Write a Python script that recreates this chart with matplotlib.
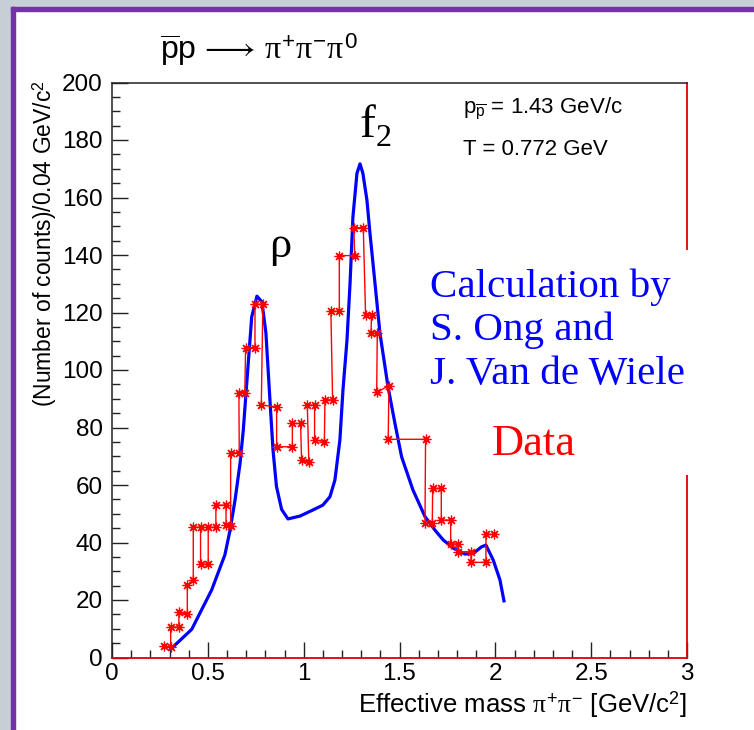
import matplotlib
matplotlib.use('Agg')
import matplotlib.pyplot as plt
from matplotlib.ticker import MultipleLocator
from matplotlib.patches import Rectangle

# ---------------- data ----------------
# measured spectrum (red, step-like polyline with star markers)
data_x = [0.272, 0.306, 0.306, 0.349, 0.349, 0.393, 0.393, 0.424, 0.424, 0.462,
          0.462, 0.502, 0.502, 0.542, 0.542, 0.595, 0.595, 0.619, 0.619, 0.664,
          0.662, 0.693, 0.697, 0.746, 0.746, 0.787, 0.779, 0.859, 0.859, 0.941,
          0.941, 0.984, 0.989, 1.027, 1.019, 1.057, 1.057, 1.108, 1.111, 1.151,
          1.142, 1.186, 1.186, 1.266, 1.262, 1.311, 1.323, 1.354, 1.351, 1.384,
          1.381, 1.445, 1.441, 1.636, 1.633, 1.671, 1.673, 1.718, 1.718, 1.767,
          1.767, 1.803, 1.807, 1.873, 1.873, 1.951, 1.951, 1.993]
data_y = [4.1, 3.5, 10.6, 10.6, 15.7, 15.1, 25.2, 26.9, 45.3, 45.3,
          32.4, 32.4, 45.3, 45.3, 53.0, 53.0, 46.1, 45.8, 71.2, 71.2,
          92.1, 92.1, 107.8, 107.8, 122.8, 122.8, 87.8, 87.2, 73.3, 73.3,
          81.4, 81.4, 68.7, 67.9, 87.8, 87.8, 75.7, 75.1, 89.6, 89.6,
          120.4, 120.4, 139.8, 139.8, 149.5, 149.5, 119.1, 119.1, 112.8, 112.8,
          92.2, 94.6, 75.9, 75.9, 46.7, 46.7, 58.8, 58.8, 47.8, 47.8,
          39.5, 39.5, 36.8, 36.8, 33.1, 33.1, 42.8, 42.8]

# calculation (blue curve)
calc_x = [0.306, 0.416, 0.520, 0.589, 0.616, 0.642, 0.668, 0.685, 0.703, 0.729,
          0.756, 0.782, 0.803, 0.824, 0.840, 0.858, 0.885, 0.918, 0.981, 1.048,
          1.100, 1.137, 1.163, 1.189, 1.205, 1.226, 1.242, 1.257, 1.278, 1.294,
          1.309, 1.330, 1.346, 1.372, 1.398, 1.440, 1.476, 1.511, 1.570, 1.633,
          1.685, 1.728, 1.781, 1.841, 1.885, 1.928, 1.951, 1.989, 2.024, 2.045]
calc_y = [2.9, 9.8, 23.5, 35.7, 44.3, 54.8, 67.5, 79.1, 95.4, 118.5,
          125.7, 123.7, 112.9, 89.6, 72.2, 59.5, 51.5, 48.2, 49.2, 51.3,
          53.0, 55.9, 61.7, 75.7, 93.0, 110.4, 130.2, 153.3, 168.4, 171.7,
          168.4, 159.1, 147.5, 130.2, 112.8, 94.2, 81.5, 69.8, 58.3, 49.0,
          44.3, 40.9, 38.0, 36.0, 36.2, 38.5, 39.1, 33.9, 27.0, 19.7]

x_ticks = [0, 0.5, 1, 1.5, 2, 2.5, 3]
x_tick_labels = ['0', '0.5', '1', '1.5', '2', '2.5', '3']
y_ticks = [0, 20, 40, 60, 80, 100, 120, 140, 160, 180, 200]
y_tick_labels = [str(v) for v in y_ticks]

# ---------------- style ----------------
plt.rcParams['font.family'] = ['Liberation Sans', 'DejaVu Sans']
plt.rcParams['mathtext.fontset'] = 'custom'
plt.rcParams['mathtext.rm'] = 'Liberation Sans'
plt.rcParams['mathtext.it'] = 'Liberation Serif'
plt.rcParams['mathtext.bf'] = 'Liberation Sans:bold'

W, H = 754, 730
fig = plt.figure(figsize=(W / 100, H / 100), dpi=100)
fig.patch.set_facecolor('white')

def fig_rect(x0, y0, x1, y1, color):
    # pixel coords (top-left origin)
    fig.patches.append(Rectangle((x0 / W, 1 - y1 / H), (x1 - x0) / W, (y1 - y0) / H,
                                 transform=fig.transFigure, color=color, zorder=0))

gray = '#c6cfd5'
purple = '#7432a6'
fig_rect(0, 0, W, 7, gray)
fig_rect(0, 0, 11, H, gray)
fig_rect(11, 7, W, 11, purple)
fig_rect(11, 7, 15, H, purple)

ax = fig.add_axes([112 / W, 1 - 657.5 / H, 575 / W, 575 / H])
ax.set_xlim(0, 3)
ax.set_ylim(0, 200)

ax.plot(calc_x, calc_y, color='#0000ff', lw=2.3, zorder=3, solid_joinstyle='round')
ax.plot(data_x, data_y, color='red', lw=1.0, marker=(8, 2, 0), markersize=7,
        markeredgewidth=0.9, markeredgecolor='red', zorder=4)

ax.set_xticks(x_ticks)
ax.set_xticklabels(x_tick_labels)
ax.set_yticks(y_ticks)
ax.set_yticklabels(y_tick_labels)
ax.xaxis.set_minor_locator(MultipleLocator(0.1))
ax.yaxis.set_minor_locator(MultipleLocator(5))
ax.tick_params(which='both', direction='in', top=False, right=False, color='#222222', width=1.0)
ax.tick_params(which='major', length=11.5)
ax.tick_params(which='minor', length=5.8)
ax.tick_params(axis='both', labelsize=17.5)
ax.tick_params(axis='y', pad=6.5)
ax.tick_params(axis='x', pad=4)

for s in ['top', 'left']:
    ax.spines[s].set_color('#222222')
    ax.spines[s].set_linewidth(1.1)
for s in ['bottom', 'right']:
    ax.spines[s].set_color('#dd0000')
    ax.spines[s].set_linewidth(1.3)

# white box behind the calculation text (covers part of right frame)
ax.add_patch(Rectangle((2.9, 63.5), 0.2, 78.2, facecolor='white', edgecolor='none',
                       clip_on=False, zorder=6))

# axis labels
fig.text(687 / W, 1 - 705 / H, r'Effective mass $\pi^{+}\pi^{-}$ [GeV/c$^{2}$]',
         ha='right', va='center', fontsize=18.5)
fig.text(45 / W, 1 - 80 / H, r'(Number of counts)/0.04 GeV/c$^{2}$',
         ha='center', va='top', rotation=90, fontsize=16.5)

# title
fig.text(160 / W, 1 - 60 / H, r'$\overline{\mathrm{p}}\mathrm{p}\,\longrightarrow\,\pi^{+}\pi^{-}\pi^{0}$',
         ha='left', va='baseline', fontsize=23)

# beam info
fig.text(463 / W, 1 - 113 / H, r'$\mathrm{p}_{\overline{\mathrm{p}}}$ = 1.43 GeV/c',
         ha='left', va='baseline', fontsize=16)
fig.text(463 / W, 1 - 155 / H, 'T = 0.772 GeV', ha='left', va='baseline', fontsize=16)

# resonance labels
serif = ['Liberation Serif', 'DejaVu Serif']
ax.text(0.88, 139.3, '\u03c1', family=serif, fontsize=32, ha='center', va='baseline')
ax.text(1.29, 181.0, 'f', family=serif, fontsize=34, ha='left', va='baseline')
ax.text(1.378, 178.0, '2', family=serif, fontsize=23, ha='left', va='baseline')

# annotations
for txt, yb in [('Calculation by', 125.4), ('S. Ong and', 110.4), ('J. Van de Wiele', 95.1)]:
    ax.text(1.659, yb, txt, family=serif, fontsize=29.5, color='#0000ff',
            ha='left', va='baseline', zorder=7)
ax.text(1.982, 70.4, 'Data', family=serif, fontsize=32, color='red',
        ha='left', va='baseline', zorder=7)

fig.savefig('out.png', dpi=100, facecolor='white')
